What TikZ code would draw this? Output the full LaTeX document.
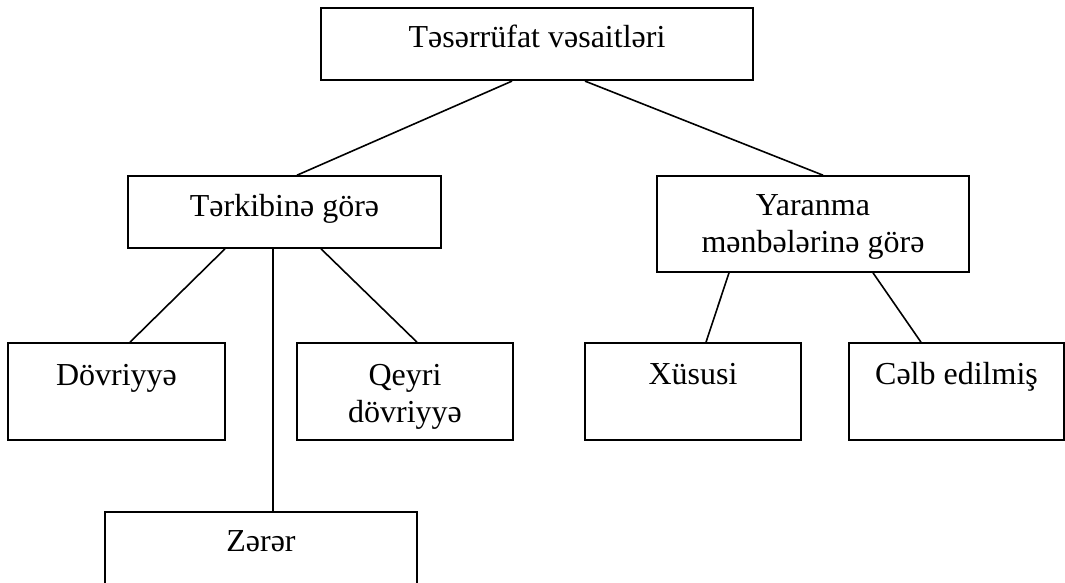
\documentclass[tikz,border=0pt]{standalone}
\usepackage{fontspec}
\setmainfont{Liberation Serif}
\begin{document}
\begin{tikzpicture}[x=1pt,y=-1pt,
  box/.style={draw, line width=1.6pt, rectangle, inner sep=0pt},
  lbl/.style={anchor=base, font=\fontsize{32}{37}\selectfont, align=center, inner sep=0pt},
  conn/.style={line width=1.6pt}]
\useasboundingbox (0,0) rectangle (1065,582);
\clip (0,0) rectangle (1065,582);
% boxes
\node[box, line width=2.2pt, minimum width=432pt, minimum height=72pt] (top) at (537,44) {};
\node[box, minimum width=313pt, minimum height=72pt] (terk) at (284.5,212) {};
\node[box, minimum width=312pt, minimum height=96pt] (yar) at (813,224) {};
\node[box, minimum width=217pt, minimum height=97pt] (dov) at (116.5,391.5) {};
\node[box, minimum width=216pt, minimum height=97pt] (qey) at (405,391.5) {};
\node[box, minimum width=312pt, minimum height=97pt] (zer) at (261,560.5) {};
\node[box, minimum width=216pt, minimum height=97pt] (xus) at (693,391.5) {};
\node[box, minimum width=215pt, minimum height=97pt] (celb) at (956.5,391.5) {};
% texts
\node[lbl] (ttop) at ([yshift=-41pt]top.north) {Təsərrüfat vəsaitləri};
\node[lbl] (tterk) at ([yshift=-41pt]terk.north) {Tərkibinə görə};
\node[lbl] (tyar) at ([yshift=-77pt]yar.north) {Yaranma\\mənbələrinə görə};
\node[lbl] (tdov) at ([yshift=-43pt]dov.north) {Dövriyyə};
\node[lbl] (tqey) at ([yshift=-80pt]qey.north) {Qeyri\\dövriyyə};
\node[lbl] (tzer) at ([yshift=-40pt]zer.north) {Zərər};
\node[lbl] (txus) at ([yshift=-42pt]xus.north) {Xüsusi};
\node[lbl] (tcelb) at ([yshift=-42pt]celb.north) {Cəlb edilmiş};
% connectors
\draw[conn] ([xshift=-25pt]top.south) -- ([xshift=12.5pt]terk.north);
\draw[conn] ([xshift=48pt]top.south) -- ([xshift=10pt]yar.north);
\draw[conn] ([xshift=-59.5pt]terk.south) -- ([xshift=13.5pt]dov.north);
\draw[conn] ([xshift=-11.5pt]terk.south) -- ([xshift=12pt]zer.north);
\draw[conn] ([xshift=36.5pt]terk.south) -- ([xshift=12pt]qey.north);
\draw[conn] ([xshift=-84pt]yar.south) -- ([xshift=13pt]xus.north);
\draw[conn] ([xshift=60pt]yar.south) -- ([xshift=-35.5pt]celb.north);
\end{tikzpicture}
\end{document}
